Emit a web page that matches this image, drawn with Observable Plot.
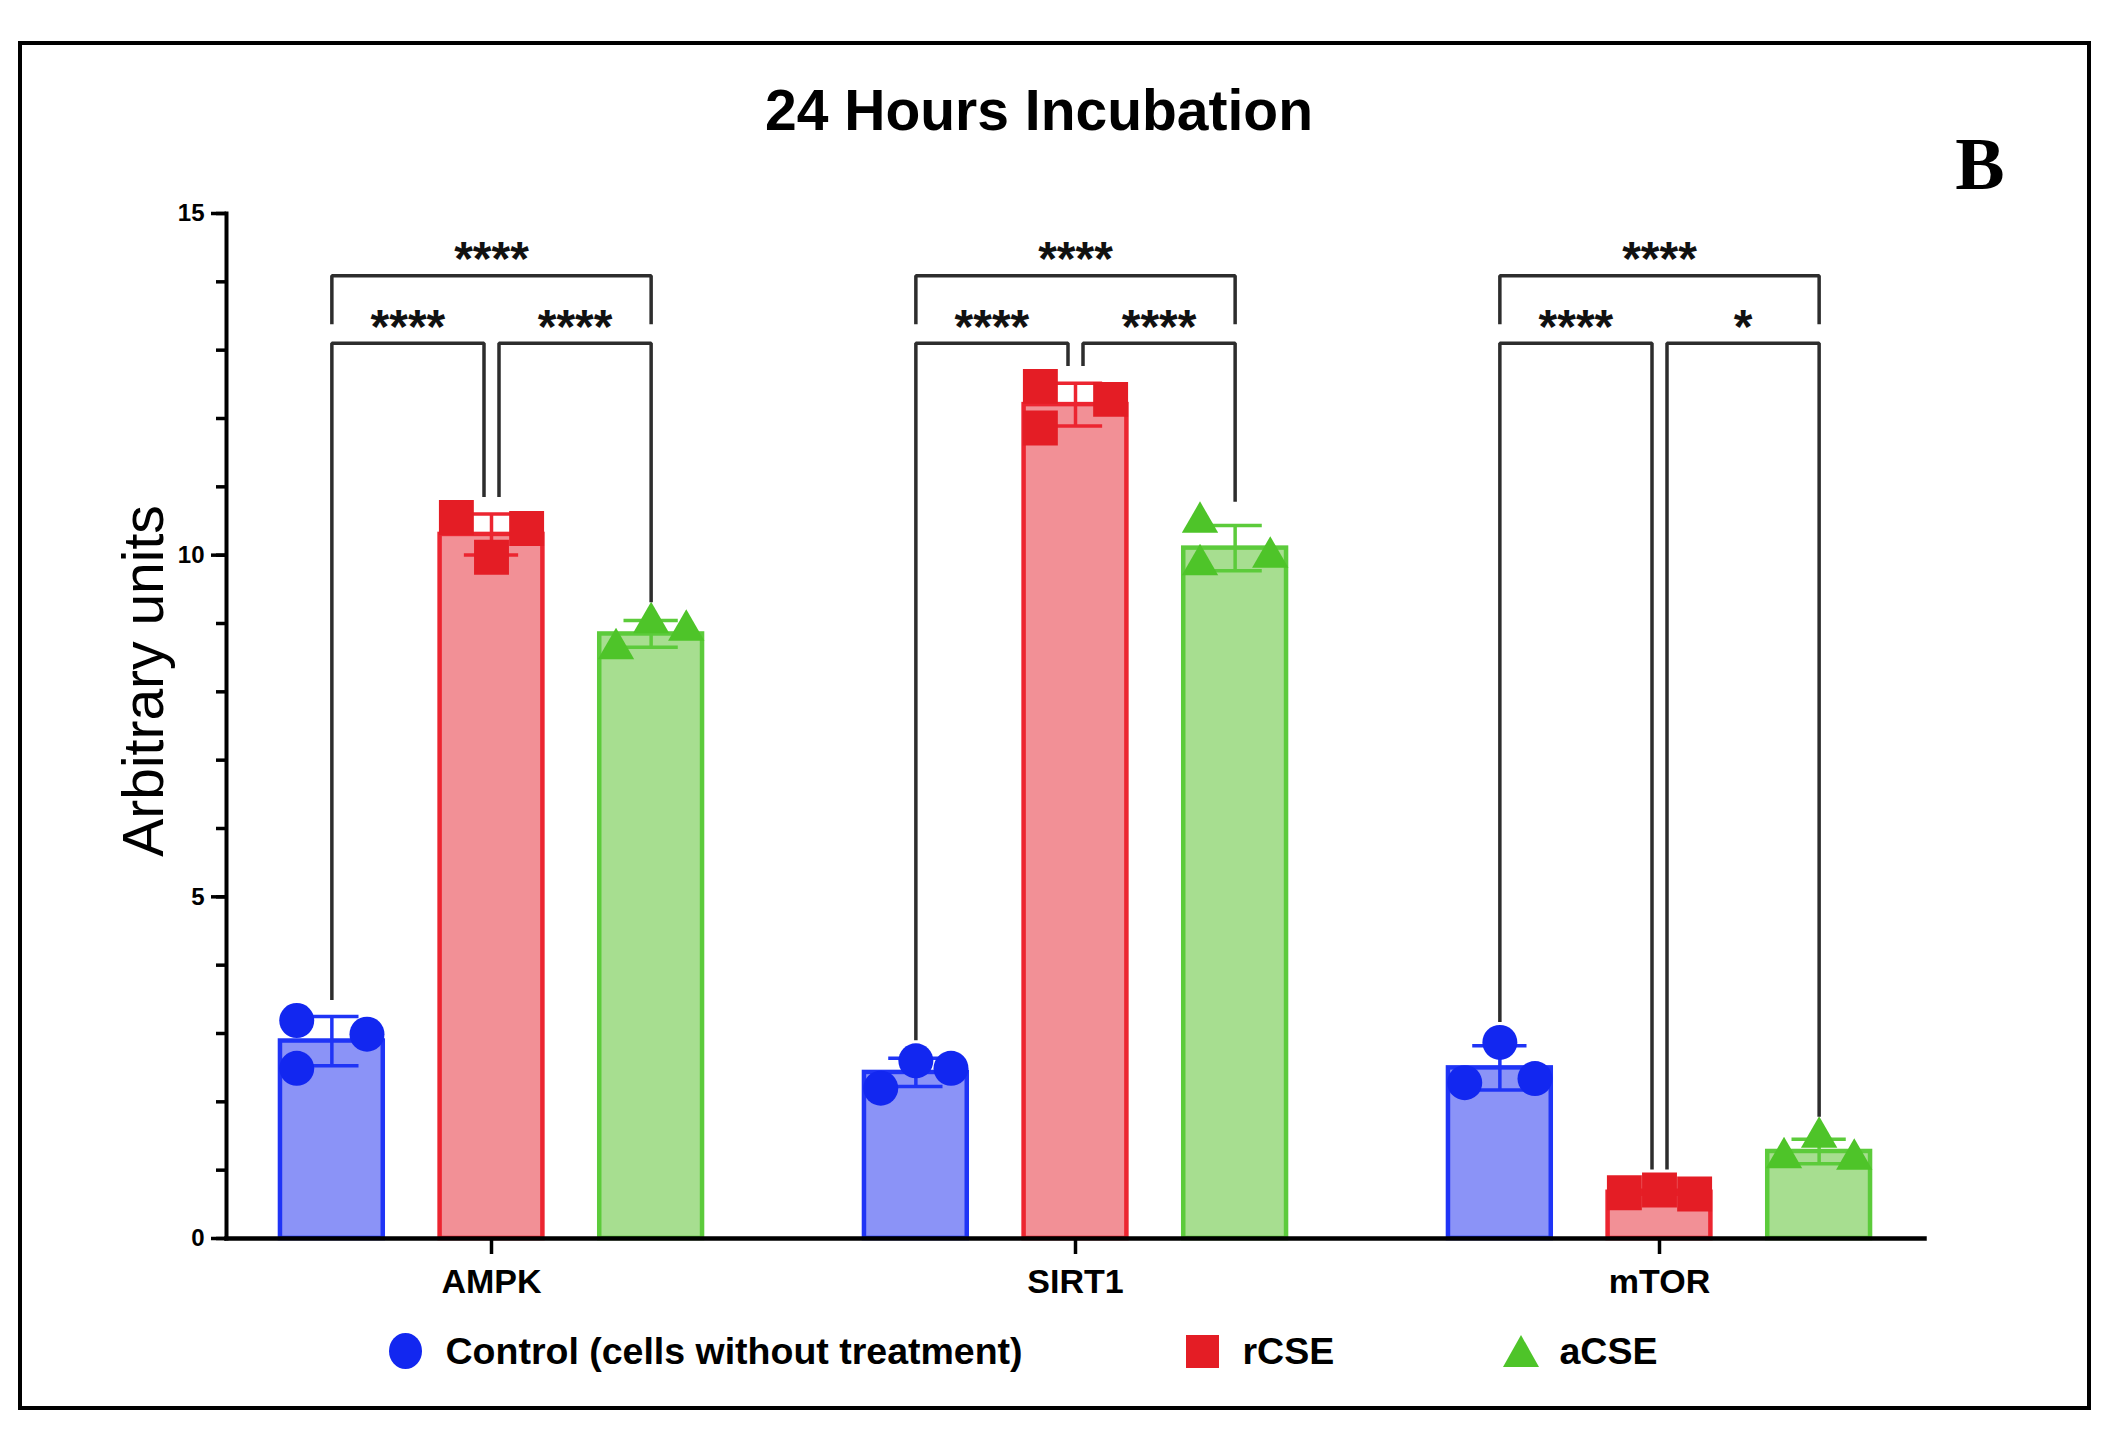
<!DOCTYPE html>
<html>
<head>
<meta charset="utf-8">
<script src="https://cdn.jsdelivr.net/npm/d3@7"></script>
<script src="https://cdn.jsdelivr.net/npm/@observablehq/plot@0.6"></script>
<style>
  html, body { margin: 0; padding: 0; background: #fff; }
  body { width: 2121px; height: 1440px; position: relative; overflow: hidden;
         font-family: "Liberation Sans", Arial, Helvetica, sans-serif; color: #000; }
  #border { position: absolute; left: 18px; top: 41px; width: 2073px; height: 1369px;
            border: 4px solid #000; box-sizing: border-box; pointer-events: none; }
  #chart { position: absolute; left: 0; top: 0; }
  #title { position: absolute; left: 1039px; top: 82px; transform: translateX(-50%);
           font-size: 57px; line-height: 57px; font-weight: bold; white-space: nowrap; }
  #panel { position: absolute; left: 1980px; top: 127px; transform: translateX(-50%);
           font-family: "Liberation Serif", "Times New Roman", serif; font-weight: bold;
           font-size: 74px; line-height: 74px; }
  #ylabel { position: absolute; left: 143px; top: 681px; transform: translate(-50%, -50%) rotate(-90deg);
            font-size: 57px; line-height: 57px; white-space: nowrap; }
  .entry { position: absolute; top: 1332px; height: 38px; display: flex; align-items: center;
           font-size: 37.5px; line-height: 38px; font-weight: bold; white-space: nowrap; }
  .entry svg { display: block; }
</style>
</head>
<body>
<div id="chart"></div>
<div id="border"></div>
<div id="title"></div>
<div id="panel"></div>
<div id="ylabel"></div>
<div id="legend"></div>
<script>
// ---------------- data ----------------
const titleText = "24 Hours Incubation";
const panelLetter = "B";
const yAxisLabel = "Arbitrary units";
const genes = ["AMPK", "SIRT1", "mTOR"];
const groups = ["Control", "rCSE", "aCSE"];
const legendLabels = ["Control (cells without treatment)", "rCSE", "aCSE"];

// replicate values, one row per gene (AMPK, SIRT1, mTOR)
const controlValues = [[3.19, 2.99, 2.49], [2.20, 2.49, 2.60], [2.28, 2.34, 2.87]];
const rcseValues    = [[10.55, 10.39, 9.97], [12.47, 12.28, 11.86], [0.67, 0.65, 0.71]];
const acseValues    = [[8.63, 8.90, 9.01], [10.48, 9.97, 9.86], [1.18, 1.16, 1.48]];

// significance labels per gene
const sigControlVsRcse = ["****", "****", "****"];
const sigRcseVsAcse    = ["****", "****", "*"];
const sigControlVsAcse = ["****", "****", "****"];

const yMajorTicks = [0, 5, 10, 15];
const yMinorTicks = d3.range(0, 16);

// ---------------- styles ----------------
const barFill   = {Control: "#8b93f7", rCSE: "#f29096", aCSE: "#a7de90"};
const barStroke = {Control: "#1f34f6", rCSE: "#ec2530", aCSE: "#5ccb3b"};
const pointFill = {Control: "#1227f0", rCSE: "#e41d25", aCSE: "#4ec429"};
const pointSymbol = {Control: "circle", rCSE: "square", aCSE: "triangle"};
const pointR = {Control: 17.5, rCSE: 19.7, aCSE: 13.5};
const ink = "#2d2d2d";

// ---------------- derived tables ----------------
const seriesValues = [controlValues, rcseValues, acseValues];

// spread overlapping replicate points sideways (left, right, centre)
function dodgeSlots(vals, minGap) {
  const order = [-1, 1, 0];
  const placed = [];
  return vals.map(v => {
    let slot = order.find(s => placed.every(p => p.slot !== s || Math.abs(p.v - v) >= minGap - 1e-9));
    if (slot === undefined) slot = 0;
    placed.push({v, slot});
    return slot;
  });
}

const points = [];
const summary = [];
genes.forEach((gene, gi) => {
  groups.forEach((group, k) => {
    const vals = seriesValues[k][gi];
    const slots = dodgeSlots(vals, 0.6);
    vals.forEach((v, j) => points.push({gene, group, i: k, value: v, slot: slots[j]}));
    summary.push({gene, group, i: k, mean: d3.mean(vals), sd: d3.deviation(vals), max: d3.max(vals)});
  });
});

// comparison brackets
const lowLevel = 13.1, highLevel = 14.09, topDrop = 0.71, legGap = 0.3, split = 0.047;
const bracketPts = [];
const bracketLabels = [];
genes.forEach((gene, gi) => {
  const top = k => summary.find(s => s.gene === gene && s.i === k).max + legGap;
  const add = (id, pts, label) => {
    pts.forEach(([x, y]) => bracketPts.push({gene, id: gene + id, x, y}));
    bracketLabels.push({gene, x: (pts[0][0] + pts[3][0]) / 2, y: pts[1][1], label});
  };
  add("a", [[0, top(0)], [0, lowLevel], [1 - split, lowLevel], [1 - split, top(1)]], sigControlVsRcse[gi]);
  add("b", [[1 + split, top(1)], [1 + split, lowLevel], [2, lowLevel], [2, top(2)]], sigRcseVsAcse[gi]);
  add("c", [[0, highLevel - topDrop], [0, highLevel], [2, highLevel], [2, highLevel - topDrop]], sigControlVsAcse[gi]);
});

const halfBar = 0.322, capHalf = 0.17, spread = 0.22;

const chart = Plot.plot({
  width: 2121,
  height: 1440,
  marginTop: 213,
  marginBottom: 202,
  marginLeft: 226,
  marginRight: 196,
  style: {fontFamily: "'Liberation Sans', Arial, Helvetica, sans-serif", background: "transparent", color: "#000"},
  fx: {domain: genes, paddingInner: 0.092, paddingOuter: 0, label: null},
  x: {domain: [-0.66, 2.66], axis: null},
  y: {domain: [0, 15], axis: null},
  color: {type: "identity"},
  marks: [
    Plot.rectY(summary, {
      fx: "gene", x1: d => d.i - halfBar, x2: d => d.i + halfBar, y1: 0, y2: "mean",
      fill: d => barFill[d.group], stroke: d => barStroke[d.group], strokeWidth: 4.5
    }),
    Plot.ruleX(summary, {
      fx: "gene", x: "i", y1: d => d.mean - d.sd, y2: d => d.mean + d.sd,
      stroke: d => barStroke[d.group], strokeWidth: 3.5
    }),
    Plot.ruleY(summary, {
      fx: "gene", x1: d => d.i - capHalf, x2: d => d.i + capHalf, y: d => d.mean + d.sd,
      stroke: d => barStroke[d.group], strokeWidth: 3.5
    }),
    Plot.ruleY(summary, {
      fx: "gene", x1: d => d.i - capHalf, x2: d => d.i + capHalf, y: d => d.mean - d.sd,
      stroke: d => barStroke[d.group], strokeWidth: 3.5
    }),
    ...groups.map(g => Plot.dot(points.filter(p => p.group === g), {
      fx: "gene", x: d => d.i + d.slot * spread, y: "value",
      symbol: pointSymbol[g], r: pointR[g], fill: pointFill[g], stroke: "none"
    })),
    Plot.line(bracketPts, {
      fx: "gene", x: "x", y: "y", z: "id", stroke: ink, strokeWidth: 3.5,
      strokeLinejoin: "miter", strokeLinecap: "butt"
    }),
    Plot.text(bracketLabels, {
      fx: "gene", x: "x", y: "y", text: "label", fontSize: 48, fontWeight: "bold",
      fill: "#111", dy: -16, lineAnchor: "middle"
    }),
    Plot.axisY({ticks: yMinorTicks, tickSize: 10, tickFormat: () => "", strokeWidth: 3.5, label: null}),
    Plot.axisY({ticks: yMajorTicks, tickSize: 15, tickPadding: 7, fontSize: 24, fontWeight: "bold",
                strokeWidth: 3.5, label: null}),
    Plot.axisFx({anchor: "bottom", tickSize: 16, tickPadding: 14, fontSize: 34, fontWeight: "bold",
                 strokeWidth: 3.5, label: null}),
    Plot.frame({anchor: "bottom", facet: "super", stroke: "#000", strokeWidth: 4.5}),
    Plot.frame({anchor: "left", facet: "super", stroke: "#000", strokeWidth: 4})
  ]
});
document.getElementById("chart").append(chart);

document.getElementById("title").textContent = titleText;
document.getElementById("panel").textContent = panelLetter;
document.getElementById("ylabel").textContent = yAxisLabel;

// legend
const legendLeft = [388.5, 1185.5, 1502.5];
const legendGap = [24, 24, 21];
const legend = document.getElementById("legend");
const symbolSvg = {
  circle: c => `<svg width="33" height="36"><ellipse cx="16.5" cy="18" rx="16.5" ry="18" fill="${c}"/></svg>`,
  square: c => `<svg width="33" height="33"><rect x="0" y="0" width="33" height="33" fill="${c}"/></svg>`,
  triangle: c => `<svg width="36" height="32"><polygon points="18,0 36,32 0,32" fill="${c}"/></svg>`
};
groups.forEach((g, k) => {
  const e = document.createElement("div");
  e.className = "entry";
  e.style.left = legendLeft[k] + "px";
  e.innerHTML = symbolSvg[pointSymbol[g]](pointFill[g]) + `<span></span>`;
  const s = e.querySelector("span");
  s.style.marginLeft = legendGap[k] + "px";
  s.textContent = legendLabels[k];
  legend.append(e);
});
</script>
</body>
</html>
